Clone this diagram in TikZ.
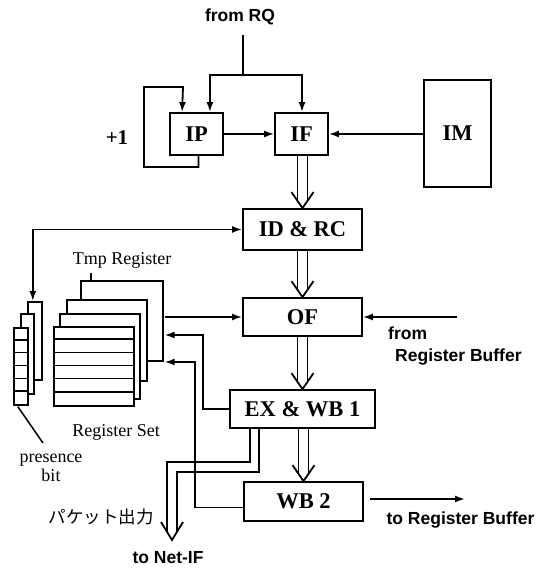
\documentclass[tikz,border=0pt]{standalone}
\usepackage{fontspec}
\setmainfont{Liberation Serif}
\setsansfont{Liberation Sans}
\newfontfamily\jpfont{Noto Sans CJK JP}
\usetikzlibrary{arrows.meta,calc}
\tikzset{
  ln/.style={line width=1.8pt},
  box/.style={draw, line width=1.8pt, inner sep=0pt, font=\bfseries\fontsize{22.5}{24}\selectfont},
  arr/.style={line width=1.8pt, -{Latex[length=10pt,width=7pt]}},
  sanslbl/.style={font=\sffamily\bfseries\fontsize{17.5}{20}\selectfont, inner sep=0pt},
  seriflbl/.style={font=\fontsize{18}{20}\selectfont, inner sep=0pt},
  reg/.style={draw, fill=white, line width=1.6pt},
}
\newcommand\dblv[2]{%
  \draw[ln] ($(#2 |- #1)+(-5,0)$) -- ($(#2)+(-5,-7)$);
  \draw[ln] ($(#2 |- #1)+(5,0)$) -- ($(#2)+(5,-7)$);
  \draw[ln, line join=miter] ($(#2)+(-11,-16)$) -- (#2) -- ($(#2)+(11,-16)$);}
\begin{document}
\begin{tikzpicture}[x=1pt, y=-1pt]
\useasboundingbox (0,0) rectangle (549,569);
% main boxes
\node[box, minimum width=53pt, minimum height=42pt] (IP) at (196.5,134) {IP};
\node[box, minimum width=53pt, minimum height=42pt] (IF) at (301.5,134) {IF};
\node[box, minimum width=67pt, minimum height=107pt] (IM) at (457.5,133.5) {IM};
\node[box, minimum width=119pt, minimum height=41pt] (IDRC) at (302.5,229.5) {ID \& RC};
\node[box, minimum width=119pt, minimum height=38pt] (OF) at (302.5,317) {OF};
\node[box, minimum width=145pt, minimum height=38pt] (EX) at (302.5,409) {EX \& WB 1};
\node[box, minimum width=119pt, minimum height=39pt] (WB2) at (303.5,501.5) {WB 2};
% labels
\node[sanslbl] (fromRQ) at (240,17) {from RQ};
\node[font=\bfseries\fontsize{21}{22}\selectfont, inner sep=0pt] (plus) at (117,138) {+1};
\node[sanslbl, anchor=west] (fromlbl) at (388,333) {from};
\node[sanslbl, anchor=west] (rblbl) at (395,357) {Register Buffer};
\node[sanslbl] (torb) at (460.5,520) {to Register Buffer};
\node[sanslbl] (tonet) at (168,558) {to Net-IF};
\node[font=\jpfont\fontsize{17.5}{20}\selectfont, inner sep=0pt] (pkt) at (101,517) {パケット出力};
\node[seriflbl] (tmplbl) at (122,260) {Tmp Register};
\node[seriflbl] (rslbl) at (116,432) {Register Set};
\node[seriflbl, align=center] (pblbl) at (51,468) {presence\\[-1pt]bit};
% register set (back to front)
\node[reg, minimum width=82pt, minimum height=80pt, anchor=north west] (tmp) at (80,280) {};
\node[reg, minimum width=80pt, minimum height=81pt, anchor=north west] (rs3) at (66,299) {};
\node[reg, minimum width=80pt, minimum height=85pt, anchor=north west] (rs2) at (59,313) {};
\node[reg, minimum width=80pt, minimum height=79pt, anchor=north west] (rs1) at (53,326) {};
\foreach \k in {1,...,5} {\draw[line width=1.6pt] ($(rs1.north west)+(0,13.17*\k)$) -- ($(rs1.north east)+(0,13.17*\k)$);}
\draw[line width=1.6pt] ($(tmp.north west)+(11,0)$) -- ++(0,-7);
% presence bits
\node[reg, minimum width=14pt, minimum height=78pt, anchor=north west] (pb3) at (27,301) {};
\node[reg, minimum width=13pt, minimum height=80pt, anchor=north west] (pb2) at (20,313) {};
\node[reg, minimum width=14pt, minimum height=77pt, anchor=north west] (pb1) at (13,327) {};
\foreach \k in {1,...,5} {\draw[line width=1.6pt] ($(pb1.north west)+(0,12.83*\k)$) -- ($(pb1.north east)+(0,12.83*\k)$);}
\coordinate (pbp) at (43,443);
\draw[line width=1.5pt] ($(pb1.south)+(-3,1)$) -- (pbp);
% from RQ
\coordinate (rqs) at (243,35);
\coordinate (rqj) at (243,75);
\draw[ln] (rqs) -- (rqj);
\draw[arr] (rqj) -| ($(IP.north east)+(-14,0)$);
\draw[arr] (rqj) -| ($(IF.north)+(0.5,0)$);
% IP loop
\coordinate (lp1) at (144,167);
\coordinate (lp2) at (183,87);
\draw[arr] ($(IP.south)+(2,0)$) |- (lp1) |- (lp2) -- ($(IP.north west)+(13,0)$);
% IP -> IF, IM -> IF
\draw[arr] (IP.east) -- (IF.west);
\draw[arr] (IF.east -| IM.west) -- (IF.east);
% pipeline double arrows
\dblv{IF.south}{IDRC.north}
\dblv{IDRC.south}{OF.north}
\dblv{OF.south}{EX.north}
\dblv{EX.south}{WB2.north}
% presence bit <-> ID&RC
\draw[line width=1.8pt, {Latex[length=10pt,width=7pt]}-{Latex[length=10pt,width=7pt]}] ($(pb3.north)+(-2,0)$) |- (IDRC.west);
% register -> OF
\draw[arr] ($(OF.west -| tmp.east)+(1,0)$) -- (OF.west);
% EX -> register
\coordinate (c1) at (203,335);
\draw[arr] (EX.west) -| (c1) -- ($(c1 -| tmp.east)+(1,0)$);
% WB2 -> register
\coordinate (c2) at (195,362);
\draw[arr] ($(WB2.west)+(0,6)$) -| (c2) -- ($(c2 -| tmp.east)+(1,0)$);
% from Register Buffer
\coordinate (rbin) at (457,317);
\draw[arr] (rbin) -- (OF.east);
% to Register Buffer
\coordinate (rbout) at (465,499);
\draw[arr] ($(WB2.east)+(6,-2.5)$) -- (rbout);
% to Net-IF double arrow
\coordinate (n1) at ($(EX.south west)+(21,0)$);
\coordinate (n2) at ($(EX.south west)+(30,0)$);
\coordinate (nt) at (172,540);
\draw[ln] (n1) |- ($(nt)+(-5,-78)$) -- ($(nt)+(-5,-8)$);
\draw[ln] (n2) |- ($(nt)+(5,-68)$) -- ($(nt)+(5,-8)$);
\draw[ln, line join=miter] ($(nt)+(-11,-18)$) -- (nt) -- ($(nt)+(11,-18)$);
\end{tikzpicture}
\end{document}
